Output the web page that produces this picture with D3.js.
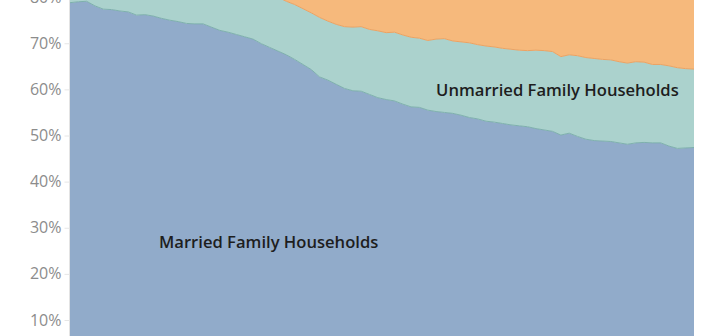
<!DOCTYPE html>
<html>
<head>
<meta charset="utf-8">
<script src="https://cdn.jsdelivr.net/npm/d3@7"></script>
<style>
  html, body { margin: 0; padding: 0; background: #fff; }
  svg { display: block; }
</style>
</head>
<body>
<svg id="chart" width="702" height="336"></svg>
<script>
const years = [1947,1948,1949,1950,1951,1952,1953,1954,1955,1956,1957,1958,1959,1960,1961,1962,1963,1964,1965,1966,1967,1968,1969,1970,1971,1972,1973,1974,1975,1976,1977,1978,1979,1980,1981,1982,1983,1984,1985,1986,1987,1988,1989,1990,1991,1992,1993,1994,1995,1996,1997,1998,1999,2000,2001,2002,2003,2004,2005,2006,2007,2008,2009,2010,2011,2012,2013,2014,2015,2016,2017,2018,2019,2020,2021,2022];

const married = [78.8,79.0,79.1,78.1,77.4,77.3,77.0,76.8,76.1,76.2,75.9,75.4,75.0,74.7,74.3,74.2,74.2,73.5,72.8,72.4,71.9,71.4,70.9,69.9,69.1,68.3,67.5,66.5,65.4,64.3,62.7,62.0,61.1,60.2,59.7,59.6,58.9,58.2,57.8,57.5,56.8,56.2,56.1,55.5,55.2,55.0,54.8,54.4,53.9,53.6,53.1,52.9,52.6,52.3,52.1,51.9,51.5,51.2,50.9,50.1,50.5,49.8,49.2,48.9,48.8,48.7,48.4,48.1,48.4,48.5,48.4,48.4,47.7,47.2,47.3,47.4];

const unmarriedFamily = [10.6,10.3,10.1,10.9,11.5,11.2,11.3,11.2,11.6,11.2,11.3,11.4,11.4,11.2,11.2,11.0,10.7,11.1,11.5,11.5,11.6,11.6,11.5,11.7,11.7,11.7,11.6,11.9,12.1,12.3,12.9,12.8,13.0,13.4,13.8,14.0,14.1,14.5,14.5,14.9,15.0,15.1,15.0,15.1,15.7,16.0,15.7,15.9,16.2,16.1,16.3,16.3,16.3,16.4,16.4,16.5,17.0,17.2,17.3,17.0,17.0,17.5,17.7,17.8,17.7,17.7,17.6,17.6,17.6,17.4,17.0,17.0,17.4,17.5,17.2,17.0];

const nonFamily = [10.6,10.7,10.8,11.0,11.1,11.5,11.7,12.0,12.3,12.6,12.8,13.2,13.6,14.1,14.5,14.8,15.1,15.4,15.7,16.1,16.5,17.0,17.6,18.4,19.2,20.0,20.9,21.6,22.5,23.4,24.4,25.2,25.9,26.4,26.5,26.4,27.0,27.3,27.7,27.6,28.2,28.7,28.9,29.4,29.1,29.0,29.5,29.7,29.9,30.3,30.6,30.8,31.1,31.3,31.5,31.6,31.5,31.6,31.8,32.9,32.5,32.7,33.1,33.3,33.5,33.6,34.0,34.3,34.0,34.1,34.6,34.6,34.9,35.3,35.5,35.6];

const seriesNames = ["Married Family Households", "Unmarried Family Households", "Nonfamily Households"];
const yTicks = [0.1,0.2,0.3,0.4,0.5,0.6,0.7,0.8];

const colors = {
  "Married Family Households": "#91abca",
  "Unmarried Family Households": "#abd2cd",
  "Nonfamily Households": "#f6b97c"
};
const lineColors = {
  "Married Family Households": "#7eb0ad",
  "Unmarried Family Households": "#eaa364"
};

const table = years.map((yr, i) => ({
  year: yr,
  "Married Family Households": married[i] / 100,
  "Unmarried Family Households": unmarriedFamily[i] / 100,
  "Nonfamily Households": nonFamily[i] / 100
}));

const svg = d3.select("#chart");
const x = d3.scaleLinear().domain([years[0], years[years.length - 1]]).range([70, 694]);
const y = d3.scaleLinear().domain([0, 1]).range([366.1, -95.1]);

const stacked = d3.stack().keys(seriesNames)(table);

const area = d3.area()
  .x(d => x(d.data.year))
  .y0(d => y(d[0]))
  .y1(d => y(d[1]));

svg.append("g").selectAll("path")
  .data(stacked)
  .join("path")
  .attr("fill", d => colors[d.key])
  .attr("d", area);

const line = d3.line()
  .x(d => x(d.data.year))
  .y(d => y(d[1]));

svg.append("g").selectAll("path")
  .data(stacked.filter(s => lineColors[s.key]))
  .join("path")
  .attr("fill", "none")
  .attr("stroke", d => lineColors[d.key])
  .attr("stroke-width", 1)
  .attr("d", line);

// y axis
const yAxis = d3.axisLeft(y)
  .tickValues(yTicks)
  .tickFormat(d3.format(".0%"))
  .tickSize(5)
  .tickPadding(3);

const gy = svg.append("g")
  .attr("transform", "translate(69.5,0)")
  .call(yAxis);
gy.select(".domain").attr("stroke", "#e3e3e3").attr("d", "M0,-100V400");
gy.selectAll(".tick line").attr("stroke", "#e6e6e6");
gy.selectAll(".tick text")
  .attr("fill", "#8c8c8c")
  .style("font-family", "'Open Sans', sans-serif")
  .style("font-size", "16px");

// labels
const labels = [
  { text: "Married Family Households", year: 1957.7, value: 0.269 },
  { text: "Unmarried Family Households", year: 1991.0, value: 0.599 }
];
svg.append("g").selectAll("text")
  .data(labels)
  .join("text")
  .attr("x", d => x(d.year))
  .attr("y", d => y(d.value))
  .attr("dy", "0.35em")
  .attr("fill", "#1e1e1e")
  .style("font-family", "'Open Sans', sans-serif")
  .style("font-weight", 600)
  .style("font-size", "16.6px")
  .text(d => d.text);
</script>
</body>
</html>
